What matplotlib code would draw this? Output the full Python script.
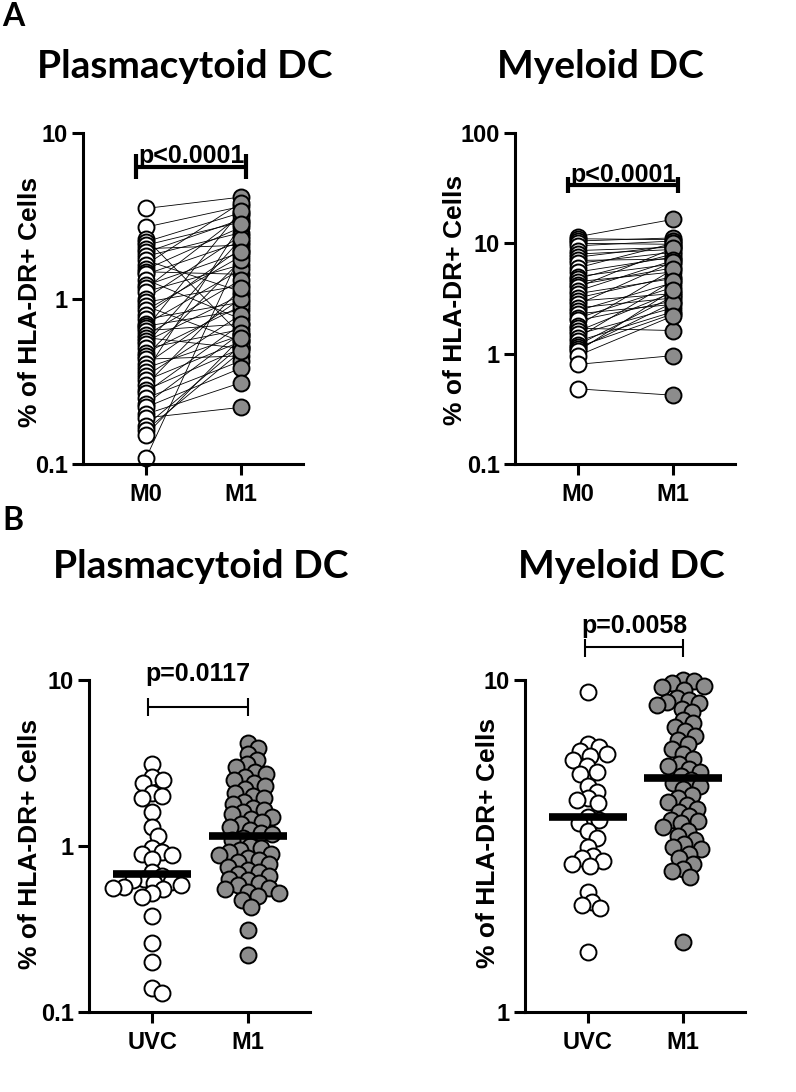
import numpy as np
import matplotlib.pyplot as plt
from matplotlib.ticker import NullLocator

# ---- data ----
# panel A: paired samples (M0 -> M1)
pdc_m0 = [3.5, 2.7, 2.3, 2.2, 2.1, 2.0, 1.9, 1.8, 1.7, 1.6, 1.5, 1.45, 1.4, 1.3, 1.2, 1.15,
          1.1, 1.0, 0.95, 0.9, 0.85, 0.8, 0.75, 0.7, 0.68, 0.66, 0.64, 0.6, 0.58, 0.55, 0.53,
          0.5, 0.47, 0.45, 0.43, 0.4, 0.38, 0.36, 0.34, 0.32, 0.3, 0.28, 0.27, 0.25, 0.23,
          0.22, 0.2, 0.19, 0.17, 0.16, 0.15, 0.108]
pdc_m1 = [4.1, 3.6, 0.6, 3.3, 2.9, 2.1, 3.0, 2.5, 1.1, 3.8, 2.7, 1.4, 2.2, 0.75, 1.9, 3.2,
          1.6, 2.4, 1.2, 0.55, 1.8, 2.0, 0.95, 1.5, 0.85, 3.4, 0.7, 1.3, 0.5, 1.05, 2.3,
          0.65, 0.9, 1.7, 0.45, 1.0, 0.6, 2.8, 0.8, 0.55, 1.15, 0.5, 0.7, 0.42, 0.62,
          0.38, 0.31, 0.22, 0.52, 0.48, 0.58, 1.9]

mdc_m0 = [11.5, 11.0, 10.5, 10.0, 9.5, 8.6, 8.0, 7.5, 7.0, 6.6, 6.0, 5.5, 5.0, 4.8, 4.5,
          4.2, 4.0, 3.7, 3.5, 3.2, 3.0, 2.8, 2.6, 2.45, 2.3, 2.1, 2.0, 1.8, 1.7, 1.6, 1.5,
          1.4, 1.3, 1.2, 1.15, 1.1, 1.05, 0.96, 0.8, 0.48]
mdc_m1 = [16.5, 10.8, 11.2, 9.8, 10.5, 9.2, 8.8, 9.5, 7.2, 8.3, 10.0, 7.5, 6.5, 8.0, 5.5,
          6.0, 9.0, 7.0, 4.8, 5.0, 3.5, 6.8, 3.2, 4.4, 2.8, 4.0, 3.0, 5.8, 1.62, 3.6, 2.6,
          4.6, 2.4, 3.3, 2.3, 2.9, 3.8, 2.2, 0.96, 0.42]

# panel B: unpaired groups (UVC vs M1)
pdc_uvc = [3.1, 2.6, 2.5, 2.4, 2.1, 2.0, 1.95, 1.6, 1.3, 1.15, 0.97, 0.92, 0.9, 0.88, 0.83,
           0.7, 0.66, 0.63, 0.62, 0.61, 0.6, 0.58, 0.57, 0.56, 0.55, 0.52, 0.49, 0.38, 0.26,
           0.2, 0.14, 0.13]
pdc_b_m1 = [4.2, 3.9, 3.6, 3.3, 3.1, 3.0, 2.8, 2.7, 2.6, 2.5, 2.4, 2.3, 2.2, 2.1, 2.0, 1.95,
            1.85, 1.8, 1.7, 1.65, 1.6, 1.55, 1.5, 1.45, 1.4, 1.35, 1.3, 1.25, 1.2, 1.18,
            1.12, 1.08, 1.0, 0.97, 0.95, 0.92, 0.9, 0.88, 0.85, 0.82, 0.8, 0.78, 0.75, 0.72,
            0.7, 0.68, 0.66, 0.63, 0.62, 0.6, 0.58, 0.56, 0.55, 0.53, 0.52, 0.5, 0.47, 0.43,
            0.31, 0.22]

mdc_uvc = [9.2, 6.4, 6.3, 6.1, 6.0, 5.9, 5.75, 5.5, 5.3, 5.2, 4.8, 4.6, 4.4, 4.35, 4.25,
           3.87, 3.8, 3.7, 3.5, 3.35, 3.15, 2.95, 2.9, 2.85, 2.8, 2.75, 2.3, 2.15, 2.1, 2.05,
           1.52]
mdc_b_m1 = [10.0, 9.9, 9.8, 9.6, 9.5, 9.3, 8.8, 8.7, 8.6, 8.5, 8.4, 8.2, 8.0, 7.6, 7.4,
            7.2, 7.0, 6.8, 6.6, 6.4, 6.2, 6.0, 5.8, 5.6, 5.5, 5.4, 5.3, 5.15,
            5.0, 4.9, 4.8, 4.7, 4.5, 4.4, 4.3, 4.2, 4.1, 4.0, 3.9, 3.8, 3.75, 3.7, 3.6, 3.5,
            3.4, 3.3, 3.2, 3.15, 3.1, 3.0, 2.9, 2.8, 2.7, 2.65, 2.55, 1.62]

labels_a = ['M0', 'M1']
labels_b = ['UVC', 'M1']

GRAY = '#8c8c8c'
TICKFONT = dict(family='Liberation Sans', weight='bold', size=17)
MS = 11.5

fig = plt.figure(figsize=(7.96, 10.92), dpi=100)
W, H = 796, 1092


def px_rect(x0, x1, ytop, ybot):
    return [x0 / W, 1 - ybot / H, (x1 - x0) / W, (ybot - ytop) / H]


def setup(ax, ylim, yticks, ylabels, xlabels, lab_xy):
    ax.set_yscale('log')
    ax.set_ylim(*ylim)
    ax.set_xlim(-0.66, 1.65)
    ax.set_yticks(yticks, ylabels)
    ax.yaxis.set_minor_locator(NullLocator())
    ax.set_xticks([0, 1], xlabels)
    for s in ['top', 'right']:
        ax.spines[s].set_visible(False)
    for s in ['left', 'bottom']:
        ax.spines[s].set_linewidth(2.2)
    ax.tick_params(width=2.2, length=8, pad=3)
    ax.tick_params(axis='x', pad=6)
    for t in ax.get_xticklabels() + ax.get_yticklabels():
        t.set_fontproperties(TICKFONT)
    ax.set_ylabel('% of HLA-DR+ Cells', fontfamily='Liberation Sans',
                  fontweight='bold', fontsize=19)
    ax.yaxis.set_label_coords(*lab_xy)


def bracket(ax, x0, x1, y, ylo, yhi, lw, text, ty):
    ax.plot([x0, x1], [y, y], color='k', lw=lw, clip_on=False, solid_capstyle='butt')
    for x in (x0, x1):
        ax.plot([x, x], [ylo, yhi], color='k', lw=lw, clip_on=False, solid_capstyle='butt')
    ax.text((x0 + x1) / 2, ty, text, ha='center', va='baseline',
            fontfamily='Liberation Sans', fontweight='bold', fontsize=18, clip_on=False)


def paired(ax, a, b):
    for u, v in zip(a, b):
        ax.plot([0, 1], [u, v], color='k', lw=0.6, zorder=1)
    ax.plot(np.zeros(len(a)), a, 'o', ms=MS, mfc='white', mec='k', mew=1.4, zorder=2,
            clip_on=False)
    ax.plot(np.ones(len(b)), b, 'o', ms=MS, mfc=GRAY, mec='k', mew=1.4, zorder=3,
            clip_on=False)


def swarm_x(ax, xc, vals, d=10.5):
    vals = np.asarray(vals, float)
    trans = ax.transData
    pts = trans.transform(np.column_stack([np.full(len(vals), xc), vals]))
    x0 = pts[0, 0]
    ys = pts[:, 1]
    steps = np.arange(1, 120)
    cand = np.concatenate([[0], np.ravel(np.column_stack([steps, -steps]))])
    placed = []
    offs = np.zeros(len(vals))
    for i in np.argsort(-ys):
        for dx in cand:
            if all((dx - px) ** 2 + (ys[i] - py) ** 2 >= d * d for px, py in placed):
                break
        placed.append((dx, ys[i]))
        offs[i] = dx
    return trans.inverted().transform(np.column_stack([x0 + offs, ys]))[:, 0]


def scatter_group(ax, xc, vals, fc):
    xs = swarm_x(ax, xc, vals)
    ax.plot(xs, vals, 'o', ms=MS, mfc=fc, mec='k', mew=1.4, zorder=2, clip_on=False)
    med = np.median(vals)
    ax.plot([xc - 0.41, xc + 0.41], [med, med], color='k', lw=5.5, zorder=4,
            solid_capstyle='butt')


# ---- panel A ----
ax1 = fig.add_axes(px_rect(83, 303, 133, 464))
setup(ax1, (0.1, 10), [0.1, 1, 10], ['0.1', '1', '10'], labels_a, (-0.186, 0.49))
paired(ax1, pdc_m0, pdc_m1)
bracket(ax1, -0.1, 1.05, 6.2, 5.3, 7.5, 3, 'p<0.0001', 6.6)

ax2 = fig.add_axes(px_rect(515, 735, 133, 464))
setup(ax2, (0.1, 100), [0.1, 1, 10, 100], ['0.1', '1', '10', '100'], labels_a,
      (-0.218, 0.495))
paired(ax2, mdc_m0, mdc_m1)
bracket(ax2, -0.1, 1.05, 33.7, 28.5, 40, 3, 'p<0.0001', 36)

# ---- panel B ----
ax3 = fig.add_axes(px_rect(89, 310, 680, 1012))
setup(ax3, (0.1, 10), [0.1, 1, 10], ['0.1', '1', '10'], labels_b, (-0.213, 0.506))
scatter_group(ax3, 0, pdc_uvc, 'white')
scatter_group(ax3, 1, pdc_b_m1, GRAY)
bracket(ax3, -0.04, 1.0, 6.9, 6.1, 7.8, 1.5, 'p=0.0117', 9.9)

ax4 = fig.add_axes(px_rect(525, 745, 680, 1012))
setup(ax4, (1, 10), [1, 10], ['1', '10'], labels_b, (-0.114, 0.51))
scatter_group(ax4, 0, mdc_uvc, 'white')
scatter_group(ax4, 1, mdc_b_m1, GRAY)
bracket(ax4, -0.03, 1.0, 12.6, 11.7, 13.3, 1.5, 'p=0.0058', 13.9)

# ---- titles and panel letters ----
TITLE = dict(family='Lato', weight='bold', size=28, ha='center', va='center')
fig.text(185 / W, 1 - 66 / H, 'Plasmacytoid DC', **TITLE)
fig.text(600 / W, 1 - 66 / H, 'Myeloid DC', **TITLE)
fig.text(201 / W, 1 - 567 / H, 'Plasmacytoid DC', **TITLE)
fig.text(621 / W, 1 - 567 / H, 'Myeloid DC', **TITLE)
fig.text(13 / W, 1 - 16 / H, 'A', family='Lato', weight='bold', size=23,
         ha='center', va='center')
fig.text(13 / W, 1 - 520 / H, 'B', family='Lato', weight='bold', size=23,
         ha='center', va='center')

fig.savefig('out.png', dpi=100)
